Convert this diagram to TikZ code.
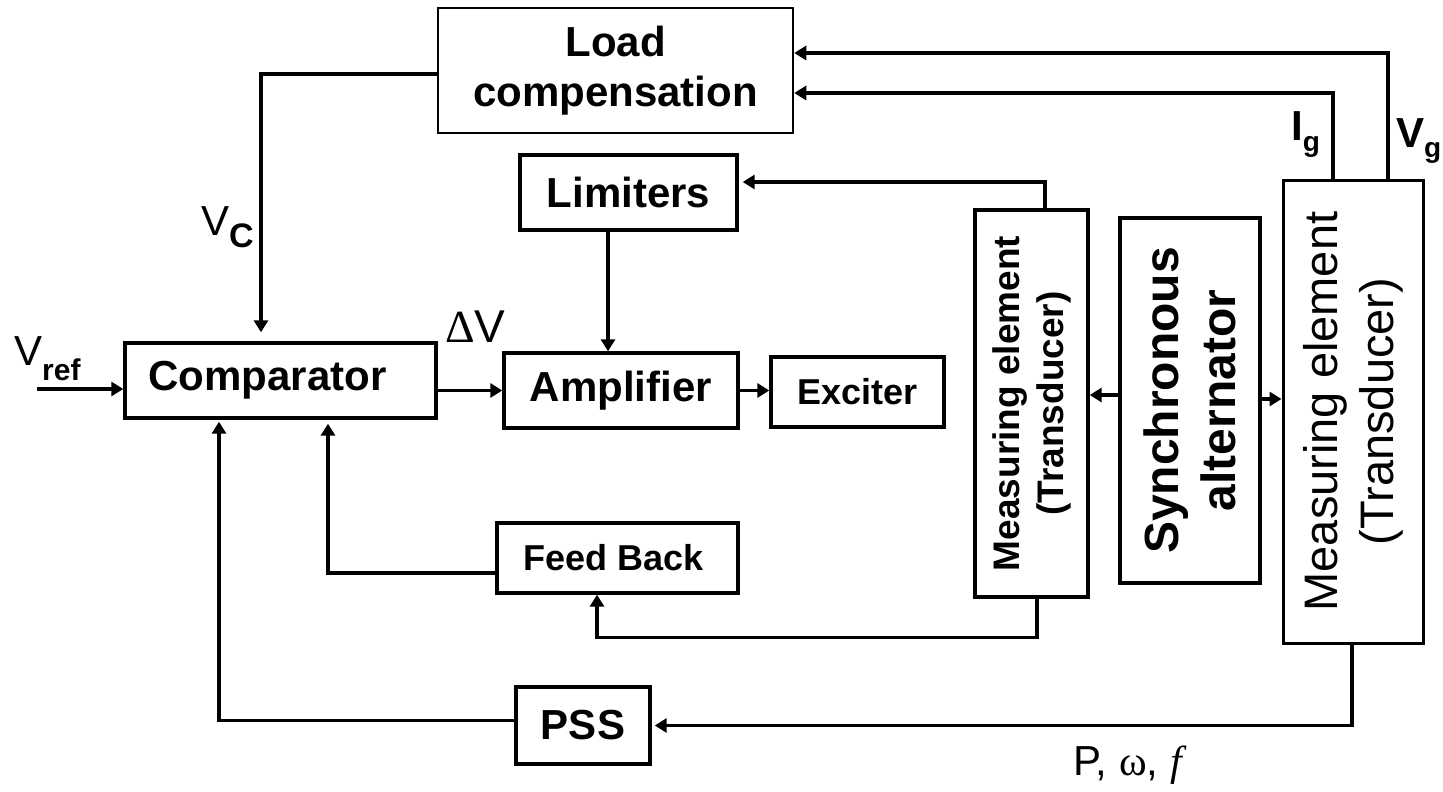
\documentclass[tikz,border=0pt]{standalone}
\usepackage{fontspec}
\setmainfont{Liberation Sans}
\newfontfamily\serifff{Liberation Serif}
\usetikzlibrary{arrows.meta}
\begin{document}
\begin{tikzpicture}[x=1pt,y=-1pt,
  box/.style={draw, line width=3.4pt, inner sep=0pt, anchor=center},
  fbig/.style={font=\fontsize{42}{50}\selectfont\bfseries},
  fmid/.style={font=\fontsize{36}{43}\selectfont\bfseries},
  arr/.style={line width=3.2pt, -{Triangle[length=12pt,width=14pt]}},
  lbl/.style={inner sep=0pt, anchor=base west, font=\fontsize{42}{50}\selectfont}]
\fill[white] (0,0) rectangle (1443,792);
\useasboundingbox (0,0) rectangle (1443,792);
% boxes
\node[box, line width=2.5pt, fbig, align=center, minimum width=355, minimum height=125] (lc) at (615.5,70.5) {Load\\compensation};
\node[box, fbig, minimum width=217, minimum height=75] (lim) at (628.5,192.5) {Limiters};
\node[box, fbig, minimum width=311, minimum height=75] (cmp) at (280.5,380.5) {Comparator\hspace*{26pt}};
\node[box, fbig, minimum width=234, minimum height=75] (amp) at (621,390.5) {Amplifier};
\node[box, fmid, minimum width=173, minimum height=70] (exc) at (857.5,392) {Exciter};
\node[box, fmid, minimum width=241, minimum height=70] (fb) at (617.5,558) {Feed Back\hspace*{8pt}};
\node[box, fbig, minimum width=134, minimum height=77] (pss) at (583,725.5) {PSS};
\node[box, minimum width=113, minimum height=387] (m1) at (1031.5,403.5) {};
\node[box, minimum width=140, minimum height=365] (syn) at (1190,400.5) {};
\node[box, line width=3pt, minimum width=140, minimum height=463] (m2) at (1353,411.5) {};
\node[rotate=90, align=center, inner sep=0pt, font=\fontsize{37}{44}\selectfont\bfseries] (m1t) at (m1.center) {Measuring element\\(Transducer)};
\node[rotate=90, align=center, inner sep=0pt, font=\fontsize{48}{57}\selectfont\bfseries] (synt) at (syn.center) {Synchronous\\alternator};
\node[rotate=90, align=center, inner sep=0pt, font=\fontsize{47}{56}\selectfont] (m2t) at (m2.center) {Measuring element\\(Transducer)};
% connectors
\draw[arr] ([yshift=-3.5pt]lc.west) -| ([xshift=-19.5pt,yshift=9pt]cmp.north);
\coordinate (vin) at (37,389);
\draw[arr] (vin) -- ([yshift=-8.5pt]cmp.west);
\draw[arr] ([yshift=-10pt]cmp.east) -- (amp.west);
\draw[arr] (amp.east) -- ([yshift=1.5pt]exc.west);
\draw[arr] ([xshift=-20.5pt]lim.south) -- ([xshift=-13pt]amp.north);
\draw[arr] ([xshift=13.5pt]m1.north) |- ([xshift=4pt,yshift=10.5pt]lim.east);
\draw[arr] ([xshift=5.5pt]m1.south) -- ++(0,39) -| ([xshift=-20.5pt]fb.south);
\draw[arr] ([yshift=-15pt]fb.west) -| ([xshift=47.5pt,yshift=-4pt]cmp.south);
\draw[arr] ([xshift=-1pt]m2.south) |- ([xshift=3pt]pss.east);
\draw[arr] ([yshift=5pt]pss.west) -| ([xshift=-61.5pt,yshift=-2pt]cmp.south);
\draw[arr] ([yshift=5.5pt]syn.west) -- ([yshift=8.5pt]m1.east);
\draw[arr] ([yshift=1.5pt]syn.east) -- ([yshift=12.5pt]m2.west);
\draw[arr] ([xshift=-20pt]m2.north) |- ([yshift=-22.5pt]lc.east);
\draw[arr] ([xshift=35pt]m2.north) |- ([yshift=17.5pt]lc.east);
% labels
\node[lbl] (vc) at (201,235) {V\raisebox{-12pt}{\fontsize{34}{34}\selectfont\bfseries C}};
\node[lbl] (vref) at (14,365) {V\raisebox{-15pt}{\fontsize{30}{30}\selectfont\bfseries ref}};
\node[lbl, font=\fontsize{46}{50}\selectfont] (dv) at (445,342) {{\serifff Δ}V};
\node[lbl, font=\fontsize{42}{50}\selectfont\bfseries] (ig) at (1291,140) {I\raisebox{-11pt}{\fontsize{28}{28}\selectfont\bfseries g}};
\node[lbl, font=\fontsize{42}{50}\selectfont\bfseries] (vg) at (1396,147) {V\raisebox{-10pt}{\fontsize{28}{28}\selectfont\bfseries g}};
\node[lbl] (pwf) at (1073,775) {P, {\serifff ω}, {\serifff\itshape f}};
\end{tikzpicture}
\end{document}
